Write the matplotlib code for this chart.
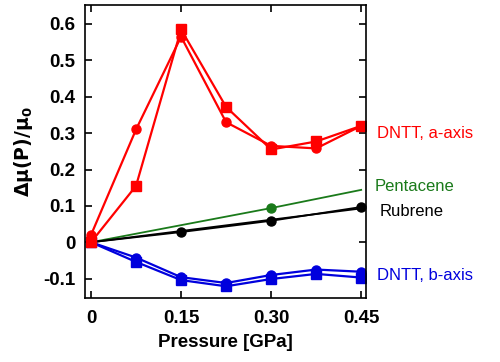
import numpy as np
import matplotlib.pyplot as plt

plt.rcParams['font.family'] = ['Liberation Sans', 'DejaVu Sans']

pressure = [0, 0.075, 0.15, 0.225, 0.30, 0.375, 0.45]
dntt_a_circ = [0.02, 0.31, 0.565, 0.33, 0.265, 0.258, 0.32]
dntt_a_sq = [0.0, 0.155, 0.585, 0.372, 0.255, 0.277, 0.32]
dntt_b_circ = [0.0, -0.042, -0.096, -0.112, -0.090, -0.075, -0.081]
dntt_b_sq = [0.0, -0.054, -0.104, -0.121, -0.101, -0.087, -0.097]

pent_p = [0, 0.30, 0.45]
pent_v = [0, 0.094, 0.144]
rub_p = [0, 0.15, 0.30, 0.45]
rub_v = [0, 0.028, 0.059, 0.097]
rub_fit = [0, 0.093]

fig = plt.figure(figsize=(5, 3.62), dpi=100)
ax = fig.add_axes([0.17, 0.177, 0.562, 0.809])

ax.plot(pent_p, pent_v, color='#1a7a1a', lw=1.3, marker='o', ms=6.5, markevery=[1])
ax.plot([0, 0.45], rub_fit, color='black', lw=1.3)
ax.plot(rub_p, rub_v, color='black', lw=1.3, marker='o', ms=6.5, markevery=[1, 2, 3])

ax.plot(pressure, dntt_b_circ, color='#0000dd', lw=1.6, marker='o', ms=6.5)
ax.plot(pressure, dntt_b_sq, color='#0000dd', lw=1.6, marker='s', ms=6.5)
ax.plot(pressure, dntt_a_circ, color='#ff0000', lw=1.6, marker='o', ms=6.5)
ax.plot(pressure, dntt_a_sq, color='#ff0000', lw=1.6, marker='s', ms=7)

ax.set_xlim(-0.01, 0.458)
ax.set_ylim(-0.153, 0.652)
ax.set_xticks([0, 0.15, 0.30, 0.45])
ax.set_xticklabels(['0', '0.15', '0.30', '0.45'])
ax.set_yticks([-0.1, 0, 0.1, 0.2, 0.3, 0.4, 0.5, 0.6])
ax.set_yticklabels(['-0.1', '0', '0.1', '0.2', '0.3', '0.4', '0.5', '0.6'])
ax.tick_params(direction='in', top=True, right=True, length=5, width=1.2,
               labelsize=13.5)
ax.tick_params(axis='x', pad=9)
ax.tick_params(axis='y', pad=7)
for lab in ax.get_xticklabels() + ax.get_yticklabels():
    lab.set_fontweight('bold')
for s in ax.spines.values():
    s.set_linewidth(1.2)

ax.set_xlabel('Pressure [GPa]', fontsize=13.5, fontweight='bold', labelpad=5)
ax.set_ylabel(r'$\mathbf{\Delta\mu(P)/\mu_0}$', fontsize=13.5, fontweight='bold',
              labelpad=6)

tx = 1.04
ax.text(tx, 0.3, 'DNTT, a-axis', color='#ff0000', fontsize=12,
        transform=ax.get_yaxis_transform(), va='center')
ax.text(tx - 0.01, 0.153, 'Pentacene', color='#1a7a1a', fontsize=12,
        transform=ax.get_yaxis_transform(), va='center')
ax.text(tx + 0.01, 0.085, 'Rubrene', color='black', fontsize=12,
        transform=ax.get_yaxis_transform(), va='center')
ax.text(tx, -0.09, 'DNTT, b-axis', color='#0000dd', fontsize=12,
        transform=ax.get_yaxis_transform(), va='center')

fig.savefig('out.png', dpi=100)
